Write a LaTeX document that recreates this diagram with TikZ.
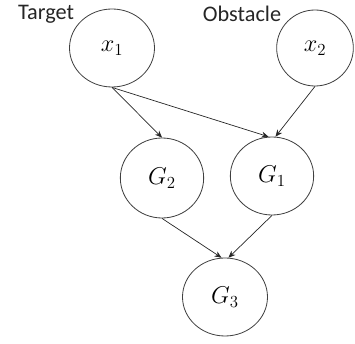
\documentclass[tikz,border=0pt]{standalone}
\usepackage{fontspec}
\setsansfont{Carlito}
\usetikzlibrary{arrows.meta,shapes.geometric}

\tikzset{
  var/.style={draw=black!75, line width=0.7pt, ellipse, inner sep=0pt,
    font=\fontsize{22}{26}\selectfont},
  tag/.style={font=\sffamily\fontsize{19}{23}\selectfont, text=black!85, inner sep=0pt}
}

\begin{document}
\begin{tikzpicture}[x=0.03cm, y=-0.03cm]
			\useasboundingbox (0,0) rectangle (355,344);
			\node[var, minimum width=2.55cm, minimum height=2.34cm] (x1) at (112, 48)  {$x_1$};
			\node[var, minimum width=2.3cm,  minimum height=2.28cm] (x2) at (315, 48)  {$x_2$};
			\node[var, minimum width=2.5cm,  minimum height=2.4cm]  (G2) at (162,178)  {$G_2$};
			\node[var, minimum width=2.5cm,  minimum height=2.34cm] (G1) at (272,176)  {$G_1$};
			\node[var, minimum width=2.55cm, minimum height=2.34cm] (G3) at (225,297)  {$G_3$};
			
			\node[tag] (t1) at (46, 14)  {Target};
			\node[tag] (t2) at (242, 14) {Obstacle};
			
			\def\edges {x1.south/G2.north, x1.south/G1.95, x2.south/G1.85,
			G2.south/G3.95, G1.south/G3.85}  % list elements
			\foreach \u/\v in \edges
			{	\draw[-{Stealth[length=6pt,width=5pt]}, draw=black!85, line width=0.6pt] (\u) -- (\v);
			}
		\end{tikzpicture}
\end{document}
